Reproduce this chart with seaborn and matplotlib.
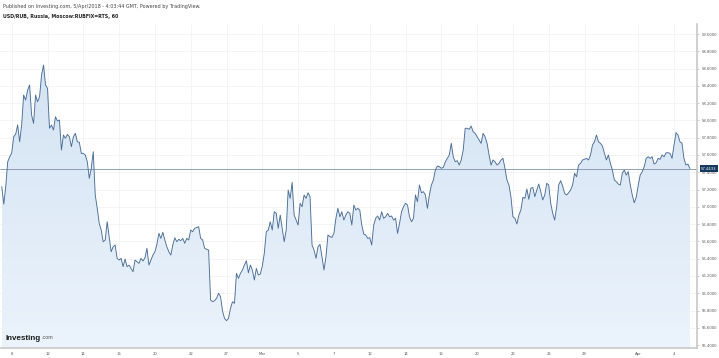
import numpy as np
import matplotlib.pyplot as plt
import seaborn as sns
from matplotlib.colors import LinearSegmentedColormap

# --- data: hourly USD/RUB closes (bar index = position in list) ---
price = [
    57.233, 57.032, 57.233, 57.522, 57.580, 57.623, 57.811, 57.843, 57.947, 57.753,
    57.947, 58.294, 58.236, 58.352, 58.410, 58.063, 57.966, 58.294, 58.216, 58.274,
    58.525, 58.641, 58.410, 58.372, 57.909, 57.947, 57.889, 58.043, 57.993, 58.005,
    57.657, 57.831, 57.793, 57.839, 57.811, 57.696, 57.811, 57.851, 57.753, 57.747,
    57.619, 57.619, 57.600, 57.522, 57.330, 57.446, 57.638, 57.137, 56.983, 56.809,
    56.731, 56.596, 56.616, 56.828, 56.654, 56.480, 56.538, 56.558, 56.404, 56.384,
    56.404, 56.307, 56.396, 56.307, 56.326, 56.288, 56.249, 56.384, 56.365, 56.346,
    56.404, 56.373, 56.411, 56.520, 56.326, 56.384, 56.442, 56.480, 56.566, 56.693,
    56.635, 56.705, 56.616, 56.538, 56.480, 56.442, 56.558, 56.642, 56.596, 56.624,
    56.608, 56.635, 56.578, 56.635, 56.616, 56.731, 56.712, 56.751, 56.761, 56.770,
    56.635, 56.616, 56.520, 56.508, 56.500, 55.921, 55.902, 55.913, 55.941, 55.999,
    55.960, 55.794, 55.709, 55.682, 55.709, 55.825, 55.902, 55.883, 56.230, 56.172,
    56.230, 56.269, 56.326, 56.376, 56.237, 56.326, 56.269, 56.153, 56.288, 56.211,
    56.222, 56.315, 56.462, 56.712, 56.731, 56.828, 56.731, 56.943, 56.925, 56.751,
    56.905, 56.751, 56.596, 56.731, 57.194, 57.098, 57.284, 56.905, 56.847, 56.789,
    57.041, 57.001, 57.137, 57.098, 57.163, 57.117, 56.558, 56.500, 56.404, 56.538,
    56.566, 56.422, 56.269, 56.422, 56.674, 56.654, 56.647, 56.693, 56.867, 56.983,
    56.885, 56.943, 56.847, 56.905, 56.943, 56.925, 56.789, 57.021, 56.963, 56.983,
    56.963, 56.789, 56.685, 56.674, 56.635, 56.642, 56.558, 56.789, 56.867, 56.894,
    56.847, 56.943, 56.867, 56.885, 56.925, 56.885, 56.894, 56.847, 56.867, 56.693,
    56.809, 56.943, 57.001, 57.041, 57.021, 56.885, 56.828, 56.867, 57.137, 57.059,
    57.252, 57.163, 57.175, 57.137, 56.983, 57.137, 57.252, 57.310, 57.426, 57.472,
    57.464, 57.446, 57.457, 57.522, 57.561, 57.600, 57.735, 57.580, 57.522, 57.534,
    57.484, 57.542, 57.657, 57.909, 57.909, 57.897, 57.935, 57.869, 57.851, 57.811,
    57.773, 57.735, 57.851, 57.811, 57.735, 57.600, 57.484, 57.542, 57.522, 57.484,
    57.503, 57.542, 57.561, 57.446, 57.310, 57.252, 57.117, 56.885, 56.867, 56.801,
    56.905, 56.963, 57.110, 57.098, 57.206, 57.087, 57.214, 57.226, 57.117, 57.194,
    57.264, 57.175, 57.079, 57.137, 57.272, 57.252, 57.041, 56.925, 56.847, 57.001,
    57.252, 57.302, 57.241, 57.156, 57.137, 57.163, 57.194, 57.252, 57.388, 57.348,
    57.484, 57.503, 57.542, 57.550, 57.561, 57.542, 57.600, 57.715, 57.753, 57.831,
    57.753, 57.735, 57.704, 57.619, 57.542, 57.600, 57.503, 57.426, 57.310, 57.291,
    57.264, 57.252, 57.388, 57.426, 57.368, 57.406, 57.252, 57.137, 57.047, 57.110,
    57.252, 57.368, 57.406, 57.464, 57.561, 57.580, 57.561, 57.580, 57.495, 57.510,
    57.561, 57.550, 57.600, 57.580, 57.626, 57.626, 57.619, 57.561, 57.715, 57.858,
    57.831, 57.753, 57.735, 57.561, 57.484, 57.495, 57.4433,
]
last_price = 57.4433

# bar index where each labelled session starts
session_bars = [5, 23, 41, 59, 77, 95, 113, 131, 149, 167, 185, 203, 221, 239, 257, 275, 293, 320, 338]
session_labels = ["8", "12", "14", "16", "20", "22", "27", "Mar", "5", "7",
                  "12", "14", "16", "20", "22", "26", "28", "Apr", "4"]
y_ticks = np.round(np.arange(55.4, 59.01, 0.2), 1)

bars = np.arange(len(price))

sns.set_style("white")
plt.rcParams["font.family"] = ["DejaVu Sans"]

W, H = 719, 358
fig = plt.figure(figsize=(W / 100, H / 100), dpi=100)
ax = fig.add_axes([0, 10 / H, 697 / W, 324 / H])

ymin, ymax = 55.366, 59.116

# --- gradient area under the line ---
area = ax.fill_between(bars, price, ymin, color="none", lw=0)
grad = np.linspace(0, 1, 256).reshape(-1, 1)
cmap = LinearSegmentedColormap.from_list("area", ["#ebf3fc", "#d4e3f3"])
img = ax.imshow(grad, cmap=cmap, origin="lower", aspect="auto",
                extent=[bars[0], bars[-1], ymin, max(price)], zorder=1)
img.set_clip_path(area.get_paths()[0], transform=ax.transData)

# --- price line + last price marker ---
sns.lineplot(x=bars, y=price, ax=ax, color="#4a6d96", linewidth=0.65, zorder=3)
ax.axhline(last_price, color="#7c93ad", lw=0.6, zorder=2)

ax.set_xlim(-0.885, 349.55)
ax.set_ylim(ymin, ymax)

# --- axes styling ---
ax.set_xticks(session_bars)
ax.set_xticklabels(session_labels)
ax.set_yticks(y_ticks)
ax.set_yticklabels([f"{v:.4f}" for v in y_ticks])
ax.yaxis.tick_right()
ax.grid(True, color="#f2f2f2", lw=0.6)
ax.set_axisbelow(True)

ax.tick_params(axis="y", length=1.5, width=0.5, colors="#bbbbbb",
               labelcolor="#555555", labelsize=2.7, pad=2)
ax.tick_params(axis="x", length=1.5, width=0.5, colors="#bbbbbb",
               labelcolor="#555555", labelsize=2.7, pad=1.5)

for side in ["top", "left"]:
    ax.spines[side].set_visible(False)
for side in ["right", "bottom"]:
    ax.spines[side].set_color("#c8c8c8")
    ax.spines[side].set_linewidth(1.2)

ax.text(1.006, last_price, "57.4433", transform=ax.get_yaxis_transform(),
        ha="left", va="center", fontsize=2.7, color="white", zorder=10,
        clip_on=False,
        bbox=dict(boxstyle="square,pad=0.35", fc="#163a5f", ec="none"))

# --- header / footer texts ---
fig.text(3 / W, 1 - 6.5 / H,
         "Published on Investing.com, 5/Apr/2018 - 4:03:44 GMT, Powered by TradingView.",
         fontsize=3.55, color="#444444", va="center")
fig.text(3 / W, 1 - 16.5 / H, "USD/RUB, Russia, Moscow:RUBFIX=RTS, 60",
         fontsize=3.45, color="#222222", va="center", fontweight="bold")

logo = fig.text(6 / W, 1 - 338 / H, "Investing", fontsize=5.8, fontweight="bold",
                family="Liberation Sans", color="#1e1e1e", va="center", zorder=10)
ax.annotate(".com", xy=(1, 0.18), xycoords=logo, fontsize=3.9,
            family="Liberation Sans", color="#555555", va="bottom", ha="left",
            annotation_clip=False)

plt.savefig("out.png", dpi=100)
